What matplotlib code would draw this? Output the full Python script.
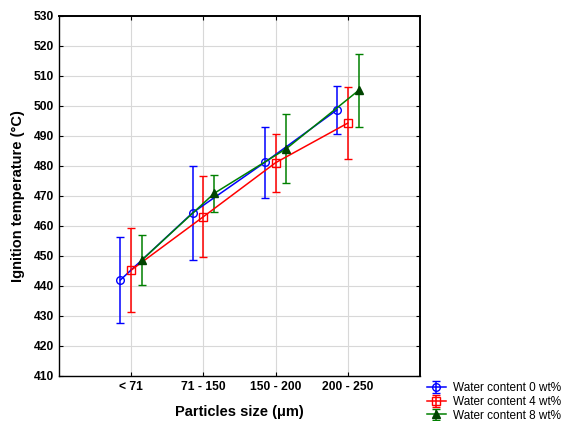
import matplotlib.pyplot as plt
import numpy as np

plt.rcParams['font.family'] = ['Liberation Sans', 'DejaVu Sans']

categories = ["< 71", "71 - 150", "150 - 200", "200 - 250"]

temp_0 = [442.0, 464.4, 481.2, 498.7]
err_0 = [14.3, 15.6, 11.8, 8.0]

temp_4 = [445.3, 463.1, 481.1, 494.3]
err_4 = [14.0, 13.5, 9.6, 12.0]

temp_8 = [448.7, 470.9, 485.8, 505.2]
err_8 = [8.3, 6.2, 11.6, 12.3]

labels = ["Water content 0 wt%", "Water content 4 wt%", "Water content 8 wt%"]

fig = plt.figure(figsize=(5.63, 4.21), dpi=100)
ax = fig.add_axes([59 / 563, 45 / 421, 361 / 563, 360 / 421])

x = np.arange(len(categories))

h0 = ax.errorbar(x - 0.15, temp_0, yerr=err_0, color="blue", marker="o",
                 markerfacecolor="none", markersize=5.5, capsize=3, linewidth=1.1,
                 elinewidth=1.1, label=labels[0])
h1 = ax.errorbar(x, temp_4, yerr=err_4, color="red", marker="s",
                 markerfacecolor="none", markersize=5.5, capsize=3, linewidth=1.1,
                 elinewidth=1.1, label=labels[1])
h2 = ax.errorbar(x + 0.15, temp_8, yerr=err_8, color="green", marker="^",
                 markerfacecolor="#004400", markeredgecolor="#004400", markersize=5.5,
                 capsize=3, linewidth=1.1, elinewidth=1.1, label=labels[2])

ax.set_xlim(-1, 4)
ax.set_ylim(410, 530)
ax.set_yticks(np.arange(410, 531, 10))
ax.set_xticks(x)
ax.set_xticklabels(categories)

ax.grid(True, color="#d8d8d8", linewidth=0.8)
ax.set_axisbelow(True)
ax.tick_params(direction="in", top=True, right=True, length=3, labelsize=8.7)
for lbl in ax.get_xticklabels() + ax.get_yticklabels():
    lbl.set_fontweight("bold")
for s in ["top", "right"]:
    ax.spines[s].set_linewidth(1.4)
for s in ["left", "bottom"]:
    ax.spines[s].set_linewidth(1.0)

ax.set_xlabel("Particles size (μm)", fontsize=10.5, fontweight="bold", labelpad=9)
ax.set_ylabel("Ignition temperature (°C)", fontsize=10.5, fontweight="bold", labelpad=6)

fig.legend(handles=[h0, h1, h2], loc="upper left", bbox_to_anchor=(427 / 563, 1 - 382 / 421),
           frameon=False, fontsize=8.5, handlelength=1.6, handletextpad=0.6,
           labelspacing=0.15, borderpad=0, borderaxespad=0)

fig.savefig("out.png", dpi=100)
